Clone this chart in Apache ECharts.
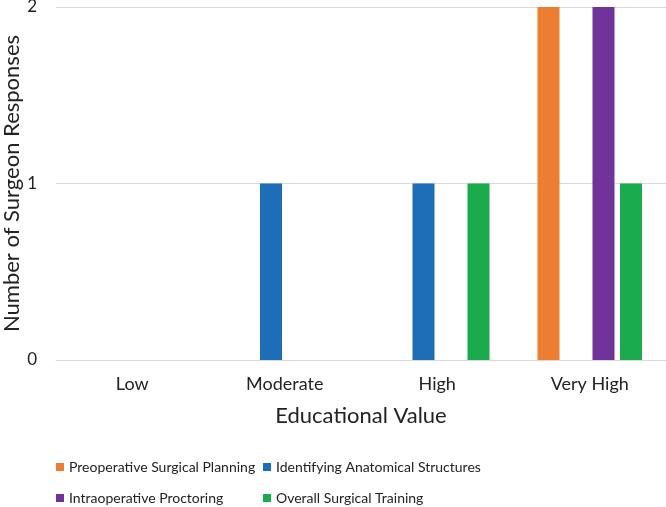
<!DOCTYPE html>
<html>
<head>
<meta charset="utf-8">
<script src="https://cdn.jsdelivr.net/npm/echarts@6/dist/echarts.min.js"></script>
<style>html,body{margin:0;padding:0;background:#fff;}#c{width:666px;height:507px;}</style>
</head>
<body>
<div id="c"></div>
<script>
var categories = ['Low', 'Moderate', 'High', 'Very High'];
var seriesNames = ['Preoperative Surgical Planning', 'Identifying Anatomical Structures', 'Intraoperative Proctoring', 'Overall Surgical Training'];
var preoperative = [0, 0, 0, 2];
var identifying = [0, 1, 1, 0];
var intraoperative = [0, 0, 0, 2];
var overall = [0, 0, 1, 1];
var yTicks = [0, 1, 2];
var colors = ['#ED7D31', '#1D6DB7', '#70339A', '#1AAB4C'];

var FONT = 'Lato';
var txt = '#222222';
var values = [preoperative, identifying, intraoperative, overall];
var legendPos = [[56, 459], [263, 459], [56, 490], [263, 490]];
var chart = echarts.init(document.getElementById('c'), null, {renderer: 'canvas'});
chart.setOption({
  animation: false,
  color: colors,
  textStyle: {fontFamily: FONT},
  grid: {left: 56, right: 0, top: 7, bottom: 147, containLabel: false, outerBoundsMode: 'none'},
  legend: seriesNames.map(function (n, i) {
    return {data: [n], left: legendPos[i][0], top: legendPos[i][1], padding: 0,
      itemWidth: 8, itemHeight: 8, itemGap: 0, icon: 'rect',
      textStyle: {fontFamily: FONT, fontSize: 14, lineHeight: 16, color: txt}};
  }),
  xAxis: {
    type: 'category', data: categories,
    name: 'Educational Value', nameLocation: 'middle', nameGap: 45, nameMoveOverlap: false,
    nameTextStyle: {fontFamily: FONT, fontSize: 22, color: txt},
    axisLine: {show: true, lineStyle: {color: '#d9d9d9', width: 1}},
    axisTick: {show: false},
    axisLabel: {fontFamily: FONT, fontSize: 18, color: txt, margin: 15}
  },
  yAxis: {
    type: 'value', min: 0, max: 2, interval: 1,
    name: 'Number of Surgeon Responses', nameLocation: 'middle', nameGap: 33, nameRotate: 90,
    nameMoveOverlap: false,
    nameTextStyle: {fontFamily: FONT, fontSize: 22, color: txt},
    axisLine: {show: false}, axisTick: {show: false},
    axisLabel: {fontFamily: FONT, fontSize: 17, color: txt, margin: 19,
      formatter: function (v) { return yTicks.indexOf(v) >= 0 ? String(v) : ''; }},
    splitLine: {lineStyle: {color: '#d9d9d9', width: 1}}
  },
  series: seriesNames.map(function (n, i) {
    return {name: n, type: 'bar', data: values[i], barWidth: 22, barGap: '25%'};
  })
});
</script>
</body>
</html>
